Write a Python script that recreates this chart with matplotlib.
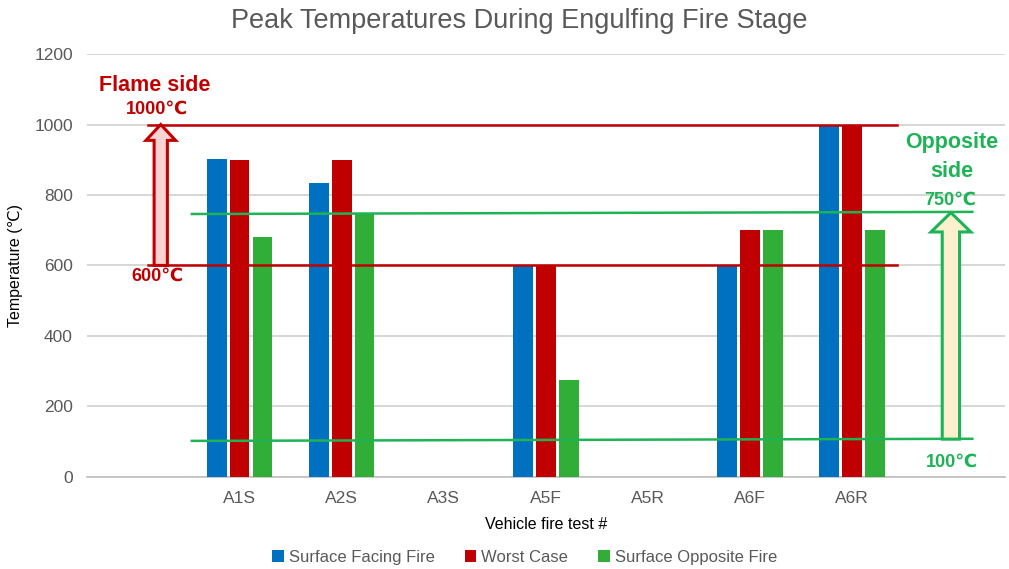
import matplotlib.pyplot as plt
from matplotlib.patches import FancyArrow
import numpy as np

plt.rcParams['font.family'] = ['Liberation Sans', 'DejaVu Sans']

# data
tests = ['', 'A1S', 'A2S', 'A3S', 'A5F', 'A5R', 'A6F', 'A6R', '']
facing = [0, 903, 833, 0, 600, 0, 600, 1000, 0]
worst = [0, 900, 900, 0, 600, 0, 700, 1000, 0]
opposite = [0, 680, 750, 0, 275, 0, 700, 700, 0]

flame_lo, flame_hi = 600, 1000
opp_lo = [102, 108]
opp_hi = [746, 752]

blue = '#0070C0'
red = '#C00000'
green = '#31AE38'
gline = '#1DB356'
grey = '#595959'

fig = plt.figure(figsize=(10.09, 5.69), dpi=100)
ax = fig.add_axes([0.086, 0.162, 0.91, 0.743])

x = np.arange(len(tests))
w = 0.19
step = 0.225
ax.bar(x - step, facing, w, color=blue, zorder=3, label='Surface Facing Fire')
ax.bar(x, worst, w, color=red, zorder=3, label='Worst Case')
ax.bar(x + step, opposite, w, color=green, zorder=3, label='Surface Opposite Fire')

ax.set_xlim(-0.5, 8.5)
ax.set_ylim(0, 1200)
ax.set_yticks(range(0, 1201, 200))
ax.set_xticks(x)
ax.set_xticklabels(tests)
ax.tick_params(axis='both', length=0, labelsize=12.5, colors=grey, pad=10)
ax.grid(axis='y', color='#D0D0D0', linewidth=1.2, zorder=0)
for s in ['top', 'right', 'left']:
    ax.spines[s].set_visible(False)
ax.spines['bottom'].set_color('#BFBFBF')
ax.spines['bottom'].set_linewidth(1.2)

# threshold lines
ax.plot([0.1, 7.44], [flame_hi, flame_hi], color=red, lw=1.8, zorder=4)
ax.plot([0.1, 7.44], [flame_lo, flame_lo], color=red, lw=1.8, zorder=4)
ax.plot([0.53, 8.18], opp_hi, color=gline, lw=1.8, zorder=4)
ax.plot([0.53, 8.18], opp_lo, color=gline, lw=1.8, zorder=4)

# arrows
ax.add_patch(FancyArrow(0.225, flame_lo, 0, flame_hi - flame_lo, width=0.13,
                        head_width=0.29, head_length=45, length_includes_head=True,
                        facecolor='#F9D3D3', edgecolor=red, lw=2.2, zorder=5))
ax.add_patch(FancyArrow(7.97, 107, 0, 750 - 107, width=0.17,
                        head_width=0.39, head_length=55, length_includes_head=True,
                        facecolor='#FDF0CF', edgecolor=gline, lw=2.2, zorder=5))

# annotations
tk = dict(fontweight='bold', ha='center', va='center', zorder=6)
ax.text(0.17, 1110, 'Flame side', color=red, fontsize=15.5, **tk)
ax.text(0.19, 1043, '1000℃', color=red, fontsize=13, **tk)
ax.text(0.19, 568, '600℃', color=red, fontsize=13, **tk)
ax.text(7.98, 948, 'Opposite', color=gline, fontsize=15.5, **tk)
ax.text(7.98, 866, 'side', color=gline, fontsize=15.5, **tk)
ax.text(7.96, 786, '750℃', color=gline, fontsize=13, **tk)
ax.text(7.98, 40, '100℃', color=gline, fontsize=13, **tk)

fig.text(0.515, 0.963, 'Peak Temperatures During Engulfing Fire Stage',
         fontsize=19.5, color=grey, ha='center', va='center')
ax.set_xlabel('Vehicle fire test #', fontsize=11.5, color='black', labelpad=8)
ax.set_ylabel('Temperature (℃)', fontsize=11.5, color='black', labelpad=8)

ax.legend(loc='center', bbox_to_anchor=(0.477, -0.19), ncol=3, frameon=False,
          fontsize=12, handlelength=0.7, handleheight=0.7, handletextpad=0.3,
          columnspacing=1.8, labelcolor=grey)

fig.savefig('out.png', dpi=100)
